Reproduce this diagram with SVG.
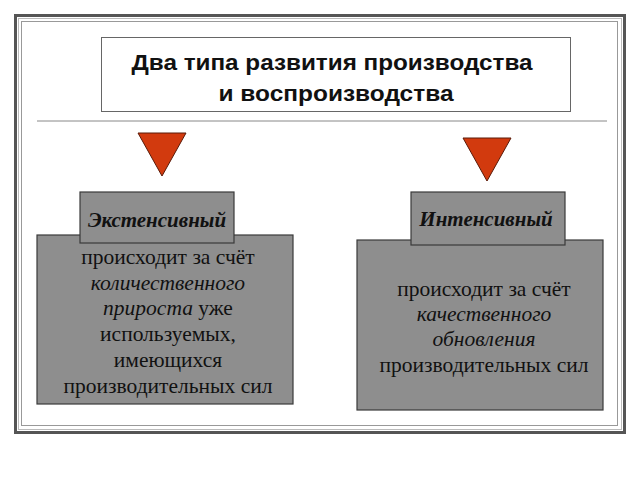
<svg xmlns="http://www.w3.org/2000/svg" width="640" height="480" viewBox="0 0 640 480">
<style>
.title{font-family:"Liberation Sans",Arial,sans-serif;font-size:22px;font-weight:bold;fill:#111;text-anchor:middle}
.lbl{font-family:"Liberation Serif","Times New Roman",serif;font-size:21px;font-weight:bold;font-style:italic;fill:#111;text-anchor:middle}
.body{font-family:"Liberation Serif","Times New Roman",serif;font-size:21.5px;fill:#111;text-anchor:middle}
.it{font-style:italic}
.box{fill:#8e8e8e;stroke:#3a3a3a;stroke-width:1.2}
.tri{fill:#d23a0e;stroke:#5a1a08;stroke-width:1}
</style>
<rect x="0" y="0" width="640" height="480" fill="#ffffff"/>
<g id="frame">
<rect x="15.5" y="15.5" width="609" height="417" fill="none" stroke="#555" stroke-width="3"/>
<rect x="18.5" y="18.5" width="603" height="411" fill="none" stroke="#bbb" stroke-width="1"/>
<rect x="21.5" y="21.5" width="596" height="404" fill="none" stroke="#999" stroke-width="1"/>
<line x1="37" y1="121" x2="607" y2="121" stroke="#888" stroke-width="1"/>
</g>
<g id="title">
<rect x="101.5" y="37.5" width="469" height="74" fill="#fff" stroke="#666" stroke-width="1"/>
<text class="title" x="332" y="70" textLength="401" lengthAdjust="spacingAndGlyphs">Два типа развития производства</text>
<text class="title" x="336" y="101" textLength="235" lengthAdjust="spacingAndGlyphs">и воспроизводства</text>
</g>
<g id="connectors">
<polygon class="tri" points="138,133 186,133 162,176"/>
<polygon class="tri" points="463,138 511,138 487,181"/>
</g>
<g id="extensive-body">
<rect class="box" x="37" y="235" width="256" height="169"/>
<text class="body" x="168" y="264">происходит за счёт</text>
<text class="body" x="168" y="290"><tspan class="it">количественного</tspan></text>
<text class="body" x="168" y="315"><tspan class="it">прироста</tspan> уже</text>
<text class="body" x="168" y="341">используемых,</text>
<text class="body" x="168" y="367">имеющихся</text>
<text class="body" x="168" y="393">производительных сил</text>
</g>
<g id="extensive-label">
<rect class="box" x="80" y="192" width="154" height="51"/>
<text class="lbl" x="157" y="227">Экстенсивный</text>
</g>
<g id="intensive-body">
<rect class="box" x="357" y="240" width="246" height="170"/>
<text class="body" x="484" y="296">происходит за счёт</text>
<text class="body" x="484" y="321"><tspan class="it">качественного</tspan></text>
<text class="body" x="484" y="346"><tspan class="it">обновления</tspan></text>
<text class="body" x="484" y="372">производительных сил</text>
</g>
<g id="intensive-label">
<rect class="box" x="411" y="192" width="154" height="53"/>
<text class="lbl" x="486" y="226">Интенсивный</text>
</g>
</svg>
